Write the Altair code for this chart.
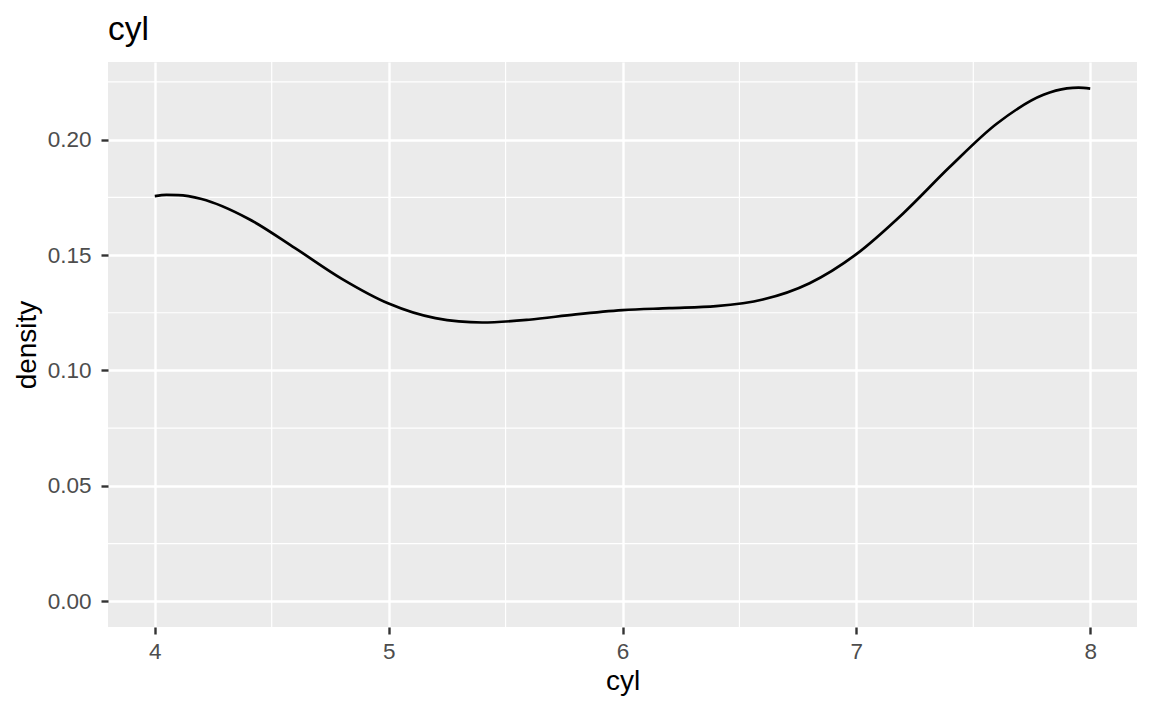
import altair as alt
import pandas as pd

# Density curve of cyl
cyl_x = [4.0, 4.05, 4.1, 4.2, 4.4, 4.6, 4.8, 5.0, 5.2, 5.4, 5.6, 5.8, 6.0,
         6.2, 6.4, 6.6, 6.8, 7.0, 7.2, 7.4, 7.6, 7.8, 7.9, 7.95, 8.0]
density_y = [0.17554, 0.17603, 0.17596, 0.17428, 0.16574, 0.15298, 0.13968,
             0.12897, 0.12265, 0.12077, 0.12198, 0.1243, 0.12613, 0.12699,
             0.12786, 0.13073, 0.13781, 0.15039, 0.16802, 0.1882, 0.20685,
             0.2194, 0.22214, 0.22247, 0.22208]

x_major = [4, 5, 6, 7, 8]
x_minor = [4.5, 5.5, 6.5, 7.5]
y_major = [0.0, 0.05, 0.10, 0.15, 0.20]
y_minor = [0.025, 0.075, 0.125, 0.175, 0.225]

x_domain = [3.8, 8.2]
y_domain = [-0.0111, 0.2336]

curve = pd.DataFrame({"cyl": cyl_x, "density": density_y})
minor_x_df = pd.DataFrame({"cyl": x_minor})
minor_y_df = pd.DataFrame({"density": y_minor})

x_scale = alt.Scale(domain=x_domain, nice=False, zero=False)
y_scale = alt.Scale(domain=y_domain, nice=False, zero=False)

x_axis = alt.Axis(values=x_major, format="d", title="cyl", grid=True,
                  gridColor="white", gridWidth=2.4, domain=False,
                  tickColor="#333333", tickSize=7, tickWidth=2.4,
                  labelColor="#4D4D4D", labelFontSize=22.5, labelPadding=6.3,
                  titleFontSize=28, titleColor="black", titleFontWeight="normal",
                  titlePadding=5)
y_axis = alt.Axis(values=y_major, format=".2f", title="density", grid=True,
                  gridColor="white", gridWidth=2.4, domain=False,
                  tickColor="#333333", tickSize=7, tickWidth=2.4,
                  labelColor="#4D4D4D", labelFontSize=22.5, labelPadding=10,
                  titleFontSize=28, titleColor="black", titleFontWeight="normal",
                  titlePadding=6)

minor_v = alt.Chart(minor_x_df).mark_rule(color="white", strokeWidth=1.2).encode(
    x=alt.X("cyl:Q", scale=x_scale, axis=x_axis)
)
minor_h = alt.Chart(minor_y_df).mark_rule(color="white", strokeWidth=1.2).encode(
    y=alt.Y("density:Q", scale=y_scale, axis=y_axis)
)
line = alt.Chart(curve).mark_line(color="black", strokeWidth=2.7,
                                  interpolate="monotone").encode(
    x=alt.X("cyl:Q", scale=x_scale, axis=x_axis),
    y=alt.Y("density:Q", scale=y_scale, axis=y_axis),
)

chart = alt.layer(minor_v, minor_h, line).properties(
    width=1029,
    height=565,
    title=alt.TitleParams("cyl", anchor="start", frame="group", fontSize=33.5,
                          fontWeight="normal", color="black", offset=-12,
                          baseline="alphabetic"),
    autosize=alt.AutoSizeParams(type="none"),
    padding={"left": 100, "top": 54, "right": 7, "bottom": 76},
).configure(
    font="Liberation Sans",
).configure_view(
    fill="#EBEBEB", stroke=None
)

chart.save("out.html", embed_options={"renderer": "svg", "actions": False})
